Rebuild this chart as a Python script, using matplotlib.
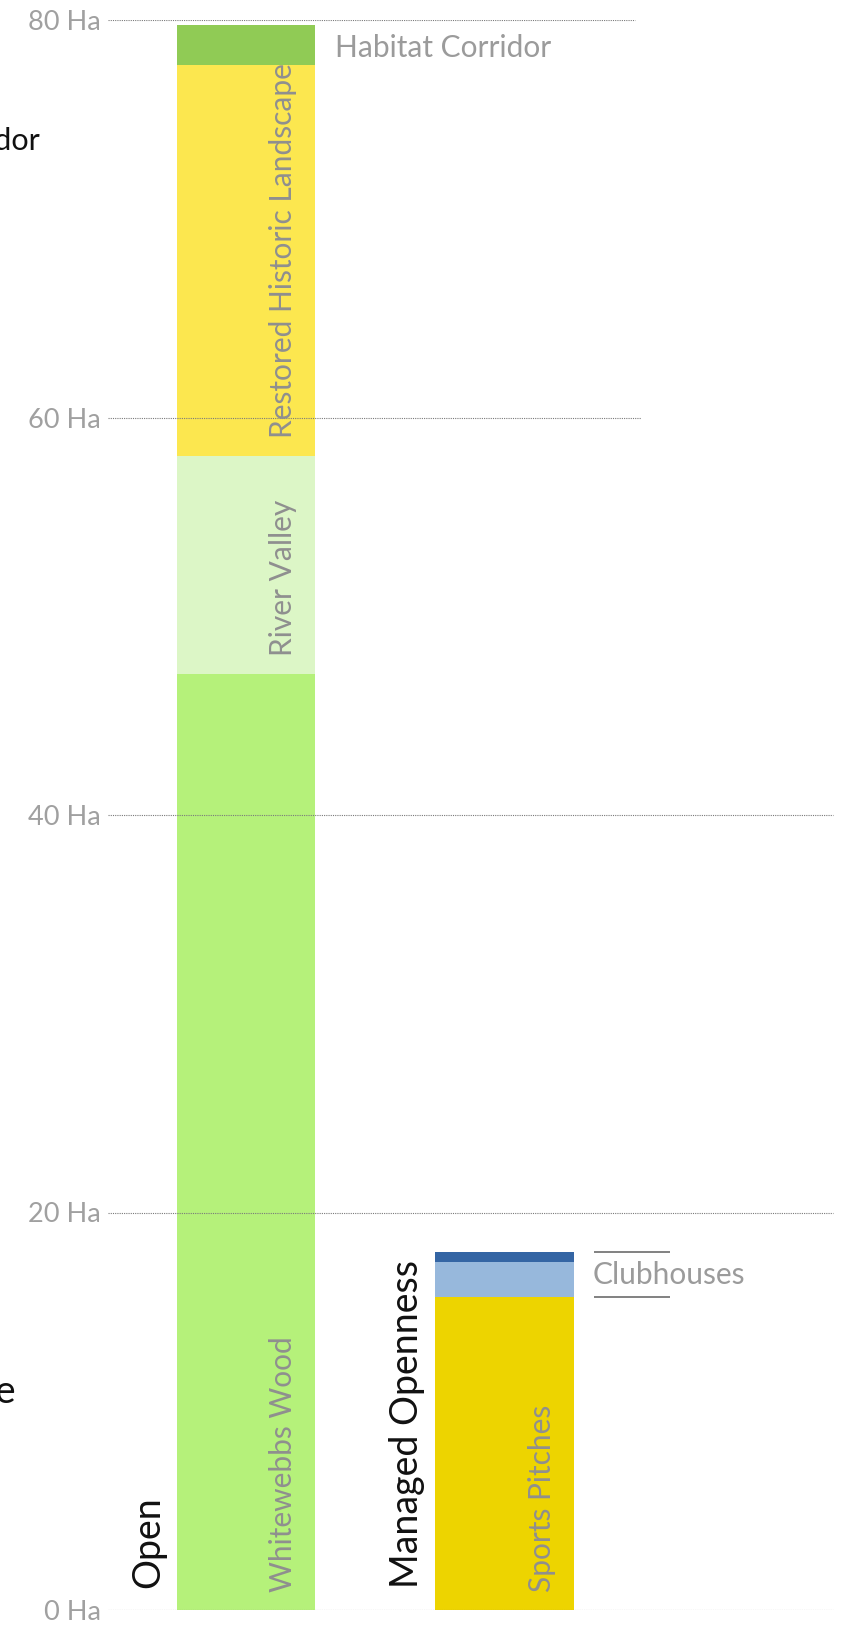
import matplotlib.pyplot as plt

plt.rcParams['font.family'] = ['Lato', 'DejaVu Sans']

# hectares per land use, stacked from the ground up
open_names = ["Whitewebbs Wood", "River Valley", "Restored Historic Landscape", "Habitat Corridor"]
open_ha = [47.1, 10.95, 19.7, 2.0]
open_colors = ["#b5f17a", "#dcf6c6", "#fce74f", "#90cb55"]

managed_names = ["Sports Pitches", "Clubhouses", ""]
managed_ha = [15.75, 1.75, 0.5]
managed_colors = ["#edd400", "#97b8dc", "#3465a4"]

groups = ["Open", "Managed Openness"]
ticks = [0, 20, 40, 60, 80]
tick_labels = [f"{t} Ha" for t in ticks]

GREY = "#9b9b9b"
LABEL_GREY = "#8f8f8f"

fig = plt.figure(figsize=(8.49, 16.34), dpi=100)
ax = fig.add_axes([108 / 849, 24 / 1634, 1 - 108 / 849, 1590 / 1634])
ax.set_ylim(0, 80)
ax.set_xlim(-0.534, 2.333)
for s in ax.spines.values():
    s.set_visible(False)
ax.set_xticks([])
ax.set_yticks(ticks, tick_labels)
ax.tick_params(axis="y", length=0, pad=5, labelsize=19.5, labelcolor="#a0a0a0")

width = 0.535
px = 80 / 1590  # one pixel in hectares


def stack(x, names, values, colors, inside):
    bottom = 0
    for name, v, c in zip(names, values, colors):
        ax.bar(x, v, width, bottom=bottom, color=c, zorder=1)
        if name and name in inside:
            ax.text(x + width / 2 - 0.088, bottom + 18 * px, name, rotation=90,
                    rotation_mode="anchor", ha="left", va="baseline",
                    fontsize=21.5, color=LABEL_GREY, zorder=3)
        bottom += v
    return bottom


stack(0, open_names, open_ha, open_colors, open_names[:3])
stack(1, managed_names, managed_ha, managed_colors, managed_names[:1])

# outside label for the thin top band
top_lo = sum(open_ha[:3])
ax.text(width / 2 + 0.078, top_lo + open_ha[3] / 2 - 3 * px, open_names[3], ha="left", va="center",
        fontsize=21.5, color=GREY)

# bracketed label for the clubhouse bands
club_lo = managed_ha[0]
club_hi = sum(managed_ha)
x0 = 1 + width / 2 + 0.078
ax.hlines([club_lo, club_hi], x0, x0 + 0.294, color="#777777", lw=1.3, zorder=3)
ax.text(x0 - 0.004, (club_lo + club_hi) / 2, managed_names[1], ha="left", va="center",
        fontsize=21.5, color=GREY)

# dotted guides drawn over the bars
grid_ends = [2.271, 2.271, 2.271, 1.528, 1.505]
for t, xe in zip(ticks, grid_ends):
    ax.hlines(t, -0.534, xe, color="#7a7a7a", lw=0.8, linestyles=(0, (1, 1)), zorder=2)

# group names beside each bar
for i, g in enumerate(groups):
    ax.text(i - width / 2 - 0.11, 22 * px, g, rotation=90, ha="center", va="bottom",
            fontsize=27, color="#111111")

# neighbouring panel labels cut by the left edge
fig.text(40 / 849, 1 - 150 / 1634, "Corridor", ha="right", va="baseline",
         fontsize=22, color="#111111")
fig.text(16 / 849, 1 - 1403 / 1634, "Landscape", ha="right", va="baseline",
         fontsize=28, color="#111111")

fig.savefig("out.png", dpi=100)
